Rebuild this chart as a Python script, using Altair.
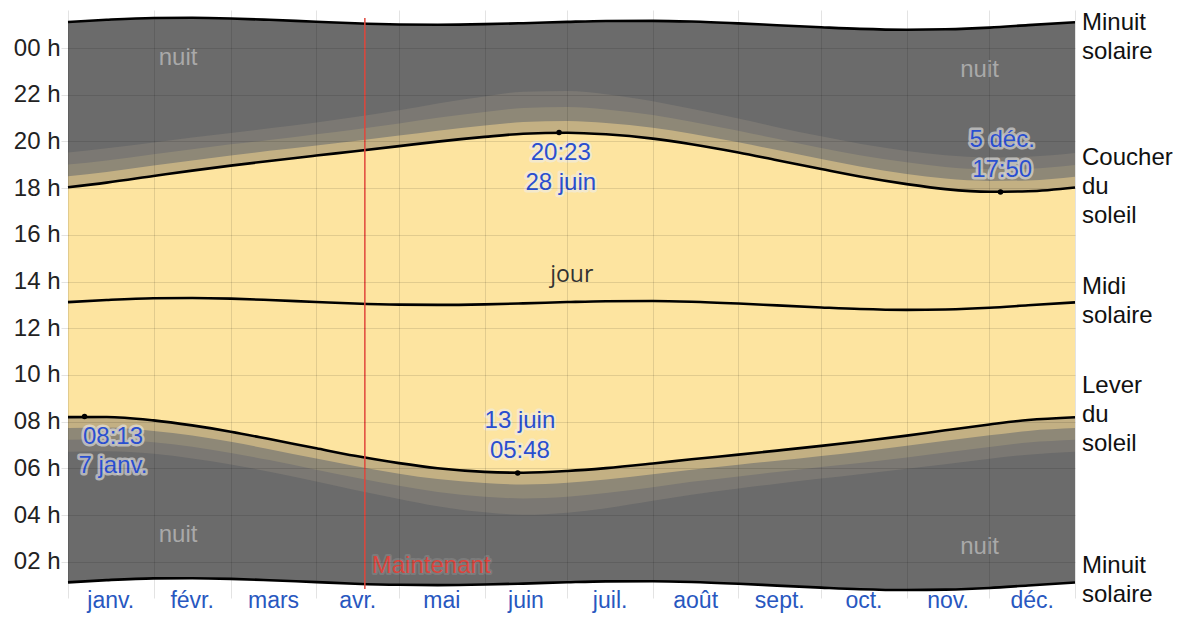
import altair as alt
import pandas as pd

# ---- data (day of year, hours) ----
days = [0, 14, 31, 45, 59, 73, 90, 104, 120, 134, 151, 165, 181, 195, 212, 226, 243, 257, 273, 287, 304, 318, 334, 348, 365]
noon = [13.118, 13.213, 13.287, 13.295, 13.267, 13.21, 13.127, 13.06, 13.012, 13.0, 13.023, 13.065, 13.122,
        13.158, 13.165, 13.135, 13.058, 12.978, 12.89, 12.823, 12.787, 12.805, 12.877, 12.983, 13.108]
sunrise = [8.194, 8.20, 8.054, 7.839, 7.570, 7.254, 6.857, 6.537, 6.224, 6.006, 5.851, 5.812, 5.886,
           6.009, 6.209, 6.388, 6.588, 6.760, 6.962, 7.149, 7.401, 7.630, 7.879, 8.070, 8.190]
sunset = [18.042, 18.238, 18.520, 18.751, 18.964, 19.166, 19.397, 19.583, 19.800, 19.994, 20.195, 20.33, 20.375,
          20.307, 20.121, 19.882, 19.528, 19.196, 18.818, 18.497, 18.173, 17.96, 17.845, 17.865, 18.026]
civil_min = [28, 27, 27, 26, 26, 26, 26, 26, 27, 28, 29, 30, 30, 29, 28, 27, 26, 26, 26, 26, 26, 27, 28, 28, 28]
naut_min = [58, 57, 56, 55, 55, 54, 55, 56, 58, 61, 64, 66, 66, 64, 61, 58, 56, 55, 54, 55, 56, 57, 58, 58, 58]
astro_min = [89, 88, 86, 85, 84, 84, 85, 88, 92, 98, 104, 108, 107, 103, 96, 91, 87, 85, 84, 84, 85, 87, 88, 89, 89]

month_starts = [0, 31, 59, 90, 120, 151, 181, 212, 243, 273, 304, 334, 365]
month_mid = [15.5, 45, 74.5, 105, 135.5, 166, 196.5, 227.5, 258, 288.5, 319, 349.5]
month_names = ["janv.", "févr.", "mars", "avr.", "mai", "juin", "juil.", "août", "sept.", "oct.", "nov.", "déc."]

ext_day = [6, 163, 178, 338]
ext_hour = [8.217, 5.8, 20.383, 17.833]

ann_text = ["08:13", "7 janv.", "13 juin", "05:48", "20:23", "28 juin", "5 déc.", "17:50"]
ann_day = [16.3, 16.3, 163.8, 163.8, 178.6, 178.6, 338.6, 338.6]
ann_hour = [7.34, 6.10, 8.03, 6.74, 19.5, 18.22, 20.06, 18.78]

nuit_day = [39.9, 330.4, 39.9, 330.4]
nuit_hour = [23.57, 23.06, 3.14, 2.63]

jour_day = [182.6]
jour_hour = [14.28]

now_day = [107.6]
now_label_day = [110.1]
now_label_hour = [1.82]

side_text = ["Minuit\nsolaire", "Coucher\ndu\nsoleil", "Midi\nsolaire", "Lever\ndu\nsoleil", "Minuit\nsolaire"]
side_hour = [25.07, 19.29, 13.76, 9.52, 1.82]

# ---- tables ----
df = pd.DataFrame({"day": days, "noon": noon, "sunrise": sunrise, "sunset": sunset})
df["mid_lo"] = df["noon"] - 12
df["mid_hi"] = df["noon"] + 12
df["civ_lo"] = df["sunrise"] - pd.Series(civil_min) / 60
df["civ_hi"] = df["sunset"] + pd.Series(civil_min) / 60
df["nau_lo"] = df["sunrise"] - pd.Series(naut_min) / 60
df["nau_hi"] = df["sunset"] + pd.Series(naut_min) / 60
df["ast_lo"] = df["sunrise"] - pd.Series(astro_min) / 60
df["ast_hi"] = df["sunset"] + pd.Series(astro_min) / 60

ext_df = pd.DataFrame({"day": ext_day, "hour": ext_hour})
ann_df = pd.DataFrame({"day": ann_day, "hour": ann_hour, "t": ann_text})
nuit_df = pd.DataFrame({"day": nuit_day, "hour": nuit_hour, "t": ["nuit"] * 4})
jour_df = pd.DataFrame({"day": jour_day, "hour": jour_hour, "t": ["jour"]})
now_df = pd.DataFrame({"day": now_day})
nowlab_df = pd.DataFrame({"day": now_label_day, "hour": now_label_hour, "t": ["Maintenant"]})
side_df = pd.DataFrame({"day": [365] * 5, "hour": side_hour, "t": side_text})
month_df = pd.DataFrame({"day": month_mid, "t": month_names})

W, H = 1007, 580
FONT = "Liberation Sans"
GRID = "rgba(0,0,0,0.11)"

xs = alt.Scale(domain=[0, 365], nice=False, zero=False)
ys = alt.Scale(domain=[0.79, 25.63], nice=False, zero=False)

xaxis = alt.Axis(values=month_starts, labels=False, ticks=True, tickSize=8, tickColor=GRID,
                 grid=True, gridColor=GRID, domain=False, title=None, zindex=1)
yaxis = alt.Axis(values=list(range(2, 25, 2)),
                 labelExpr="(datum.value % 24 < 10 ? '0' : '') + (datum.value % 24) + ' h'",
                 labelFontSize=24, labelFont=FONT, labelColor="#222222", labelPadding=1,
                 ticks=True, tickSize=7, tickColor=GRID, grid=True, gridColor=GRID,
                 domain=False, title=None, zindex=1)

X = alt.X("day:Q", scale=xs, axis=xaxis)


def band(lo, hi, color):
    return alt.Chart(df).mark_area(interpolate="monotone", color=color).encode(
        x=X, y=alt.Y(f"{lo}:Q", scale=ys, axis=yaxis), y2=f"{hi}:Q")


def line(field):
    return alt.Chart(df).mark_line(interpolate="monotone", color="#000000", strokeWidth=2.6).encode(
        x=X, y=alt.Y(f"{field}:Q", scale=ys, axis=yaxis))


layers = [
    band("mid_lo", "mid_hi", "#6b6b6b"),
    band("ast_lo", "ast_hi", "#7b7873"),
    band("nau_lo", "nau_hi", "#8e8877"),
    band("civ_lo", "civ_hi", "#c3b083"),
    band("sunrise", "sunset", "#fde4a0"),
]
for f in ["mid_lo", "mid_hi", "sunrise", "sunset", "noon"]:
    layers.append(line(f))

layers.append(alt.Chart(ext_df).mark_point(filled=True, color="#000000", size=30, opacity=1).encode(
    x=X, y=alt.Y("hour:Q", scale=ys, axis=yaxis)))

# now line
layers.append(alt.Chart(now_df).mark_rule(color="#e0473c", strokeWidth=1.5).encode(
    x=X, y=alt.value(8), y2=alt.value(H - 1)))

# annotation halos + texts
layers.append(alt.Chart(ann_df).mark_text(font=FONT, fontSize=24, align="center", baseline="middle",
                                          color="#eeeeee", stroke="#eeeeee", strokeWidth=5,
                                          strokeOpacity=0.75, opacity=0.75, strokeJoin="round").encode(
    x=X, y=alt.Y("hour:Q", scale=ys, axis=yaxis), text="t:N"))
layers.append(alt.Chart(ann_df).mark_text(font=FONT, fontSize=24, align="center", baseline="middle",
                                          color="#2a4fcf").encode(
    x=X, y=alt.Y("hour:Q", scale=ys, axis=yaxis), text="t:N"))

layers.append(alt.Chart(nowlab_df).mark_text(font=FONT, fontSize=24, align="left", baseline="middle",
                                             color="#9a9a9a", stroke="#9a9a9a", strokeWidth=4,
                                             strokeOpacity=0.6, opacity=0.6, strokeJoin="round").encode(
    x=X, y=alt.Y("hour:Q", scale=ys, axis=yaxis), text="t:N"))
layers.append(alt.Chart(nowlab_df).mark_text(font=FONT, fontSize=24, align="left", baseline="middle",
                                             color="#d9453d").encode(
    x=X, y=alt.Y("hour:Q", scale=ys, axis=yaxis), text="t:N"))

layers.append(alt.Chart(nuit_df).mark_text(font=FONT, fontSize=24, align="center", baseline="middle",
                                           color="#a9a9a9").encode(
    x=X, y=alt.Y("hour:Q", scale=ys, axis=yaxis), text="t:N"))
layers.append(alt.Chart(jour_df).mark_text(font="Open Sans", fontSize=23, align="center", baseline="middle",
                                           color="#333333").encode(
    x=X, y=alt.Y("hour:Q", scale=ys, axis=yaxis), text="t:N"))

layers.append(alt.Chart(side_df).mark_text(font=FONT, fontSize=24, align="left", baseline="middle",
                                           color="#111111", dx=7, lineBreak="\n", lineHeight=29).encode(
    x=X, y=alt.Y("hour:Q", scale=ys, axis=yaxis), text="t:N"))

layers.append(alt.Chart(month_df).mark_text(font=FONT, fontSize=23, align="center", baseline="alphabetic",
                                            color="#2857c0").encode(
    x=X, y=alt.value(H + 18), text="t:N"))

chart = alt.layer(*layers).properties(
    width=W, height=H,
    autosize=alt.AutoSizeParams(type="none"),
    padding={"left": 60, "top": 2, "right": 99, "bottom": 24},
    background="#ffffff",
).configure_view(stroke=None)

chart.save("out.html", embed_options={"renderer": "svg", "actions": False})
